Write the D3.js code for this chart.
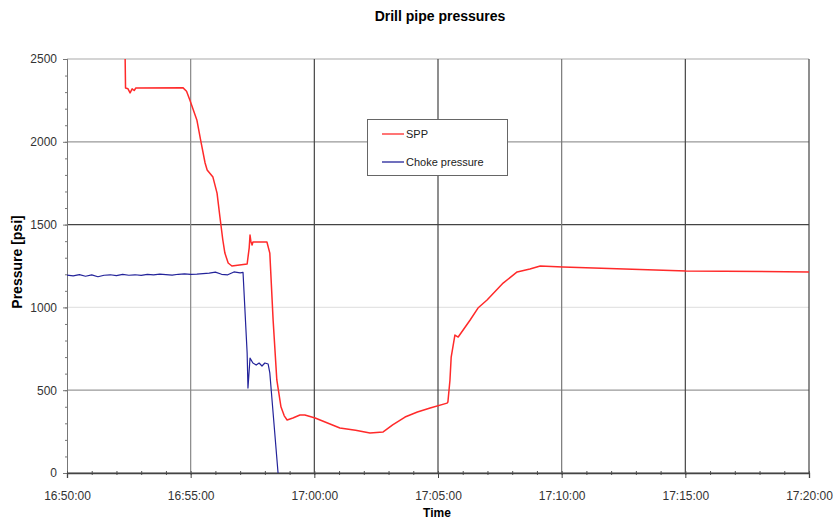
<!DOCTYPE html>
<html>
<head>
<meta charset="utf-8">
<script src="https://cdn.jsdelivr.net/npm/d3@7"></script>
<style>
body { margin: 0; background: #fff; }
svg { font-family: "Liberation Sans", Arial, sans-serif; }
</style>
</head>
<body>
<div id="chart"></div>
<script>
var sppTimes = ["16:52:20","16:52:22","16:52:28","16:52:33","16:52:38","16:52:43","16:52:47","16:54:41","16:54:50","16:54:58",
	"16:55:15","16:55:25","16:55:35","16:55:40","16:55:54","16:56:04","16:56:11","16:56:18","16:56:23","16:56:31",
	"16:56:40","16:57:17","16:57:22","16:57:24","16:57:26","16:57:29","16:57:31","16:58:05","16:58:12","16:58:20",
	"16:58:29","16:58:39","16:58:47","16:58:54","16:59:08","16:59:25","16:59:37","17:00:02","17:01:02","17:01:40","17:02:15","17:02:47",
	"17:03:10","17:03:40","17:04:10","17:04:41","17:05:22","17:05:24","17:05:29","17:05:32","17:05:41","17:05:49","17:06:18","17:06:37",
	"17:06:59","17:07:38","17:08:12","17:08:43","17:09:08","17:10:03","17:15:02","17:20:00"];
var sppValues = [2700,2325,2320,2295,2320,2310,2325,2327,2305,2252,
	2132,2000,1872,1830,1787,1690,1546,1407,1328,1268,
	1250,1262,1360,1437,1400,1377,1395,1395,1328,924,
	562,400,345,320,332,350,350,332,272,258,241,248,
	290,338,368,392,422,429,560,700,833,821,924,996,
	1045,1147,1214,1232,1250,1244,1220,1214];

var chokeTimes = ["16:50:00","16:50:15","16:50:30","16:50:45","16:51:00","16:51:15","16:51:30","16:51:45","16:52:00",
	"16:52:15","16:52:30","16:52:45","16:53:00","16:53:15","16:53:30","16:53:45","16:54:00","16:54:15","16:54:30",
	"16:54:45","16:55:00","16:55:15","16:55:30","16:55:45","16:56:00","16:56:15","16:56:30","16:56:45","16:57:00",
	"16:57:07","16:57:17","16:57:19","16:57:24","16:57:31","16:57:39","16:57:46","16:57:53","16:58:00","16:58:08",
	"16:58:12","16:58:32"];
var chokeValues = [1195,1190,1198,1188,1196,1185,1194,1197,1192,
	1199,1194,1197,1193,1199,1196,1201,1198,1195,1200,
	1203,1199,1201,1204,1207,1213,1200,1197,1214,1209,
	1212,725,513,694,664,652,664,646,664,658,
	604,0];

var yMajor = [0, 500, 1000, 1500, 2000, 2500];
var xMajor = ["16:50:00","16:55:00","17:00:00","17:05:00","17:10:00","17:15:00","17:20:00"];
var seriesNames = ["SPP", "Choke pressure"];
var seriesColors = ["#ff2a2a", "#23239a"];

var W = 835, H = 521;
var m = {l: 67, r: 26, t: 59, b: 48};
var parse = d3.timeParse("%H:%M:%S");
var fmt = d3.timeFormat("%H:%M:%S");

var svg = d3.select('#chart').append('svg')
	.attr('width', W)
	.attr('height', H);

var x = d3.scaleTime()
	.domain([parse(xMajor[0]), parse(xMajor[xMajor.length - 1])])
	.range([m.l, W - m.r]);
var y = d3.scaleLinear()
	.domain([0, 2500])
	.range([H - m.b, m.t]);

// grid lines (scan makes some darker than others)
var hGridColor = {0: "#666", 500: "#999", 1000: "#e4e4e4", 1500: "#444", 2000: "#999", 2500: "#aaa"};
var vGridColor = ["#666", "#888", "#444", "#444", "#777", "#444", "#444"];

svg.append('g').attr('class', 'grid-h')
	.selectAll('line').data(yMajor).enter().append('line')
	.attr('x1', m.l).attr('x2', W - m.r)
	.attr('y1', d => y(d)).attr('y2', d => y(d))
	.attr('stroke', d => hGridColor[d]).attr('stroke-width', 1.2);
svg.append('g').attr('class', 'grid-v')
	.selectAll('line').data(xMajor.slice(1)).enter().append('line')
	.attr('x1', d => x(parse(d))).attr('x2', d => x(parse(d)))
	.attr('y1', m.t).attr('y2', H - m.b)
	.attr('stroke', (d, i) => vGridColor[i + 1]).attr('stroke-width', 1.2);

// axes
var yAxis = d3.axisLeft(y).tickValues(yMajor).tickSize(4).tickPadding(6).tickFormat(d3.format('d'));
var yMinor = d3.axisLeft(y).tickValues(d3.range(0, 2501, 100)).tickSize(2).tickFormat('');
var xAxis = d3.axisBottom(x).tickValues(xMajor.map(parse)).tickSize(5).tickPadding(13).tickFormat(fmt);
var xMinor = d3.axisBottom(x).ticks(d3.timeMinute.every(1)).tickSize(2).tickFormat('');

svg.append('g').attr('class', 'axis y')
	.attr('transform', 'translate(' + m.l + ',0)')
	.call(yMinor)
	.call(g => g.selectAll('line,path').attr('stroke', '#777'));
svg.append('g').attr('class', 'axis y')
	.attr('transform', 'translate(' + m.l + ',0)')
	.call(yAxis)
	.call(g => g.select('.domain').attr('stroke', '#777'))
	.call(g => g.selectAll('line').attr('stroke', '#777'))
	.call(g => g.selectAll('text').style('font-size', '12px').attr('fill', '#333'));

svg.append('g').attr('class', 'axis x')
	.attr('transform', 'translate(0,' + (H - m.b) + ')')
	.call(xMinor)
	.call(g => g.selectAll('line').attr('stroke', '#555').attr('y1', -2))
	.call(g => g.select('.domain').remove());
svg.append('g').attr('class', 'axis x')
	.attr('transform', 'translate(0,' + (H - m.b) + ')')
	.call(xAxis)
	.call(g => g.select('.domain').attr('stroke', '#444').attr('stroke-width', 1.3))
	.call(g => g.selectAll('line').attr('stroke', '#444'))
	.call(g => g.selectAll('text').style('font-size', '12px').attr('fill', '#333'));

// lines
svg.append('clipPath').attr('id', 'plot')
	.append('rect').attr('x', m.l).attr('y', m.t)
	.attr('width', W - m.l - m.r).attr('height', H - m.t - m.b);

var line = d3.line().x(d => x(d[0])).y(d => y(d[1]));
var spp = sppTimes.map((t, i) => [parse(t), sppValues[i]]);
var choke = chokeTimes.map((t, i) => [parse(t), chokeValues[i]]);

svg.append('g').attr('clip-path', 'url(#plot)')
	.selectAll('path').data([spp, choke]).enter()
	.append('path')
		.attr('d', line)
		.attr('fill', 'none')
		.attr('stroke', (d, i) => seriesColors[i])
		.attr('stroke-width', (d, i) => i == 0 ? 1.5 : 1.2)
		.attr('stroke-linejoin', 'round');

// legend
var lg = svg.append('g').attr('class', 'legend');
lg.append('rect')
	.attr('x', 367.5).attr('y', 119.5).attr('width', 140).attr('height', 56)
	.attr('fill', '#fff').attr('stroke', '#666');
seriesNames.forEach(function(name, i) {
	var ly = 134 + i * 28;
	lg.append('line').attr('x1', 382).attr('x2', 404).attr('y1', ly).attr('y2', ly)
		.attr('stroke', seriesColors[i]).attr('stroke-width', 1.3);
	lg.append('text').attr('x', 406).attr('y', ly + 4)
		.style('font-size', '11px').attr('fill', '#222').text(name);
});

// titles
svg.append('text')
	.attr('x', 440).attr('y', 21)
	.attr('text-anchor', 'middle')
	.style('font-size', '14px').style('font-weight', 'bold')
	.text('Drill pipe pressures');
svg.append('text')
	.attr('transform', 'translate(22,' + 262 + ') rotate(-90)')
	.attr('text-anchor', 'middle')
	.style('font-size', '14px').style('font-weight', 'bold')
	.text('Pressure [psi]');
svg.append('text')
	.attr('x', 437).attr('y', 517)
	.attr('text-anchor', 'middle')
	.style('font-size', '12px').style('font-weight', 'bold')
	.text('Time');
</script>
</body>
</html>
